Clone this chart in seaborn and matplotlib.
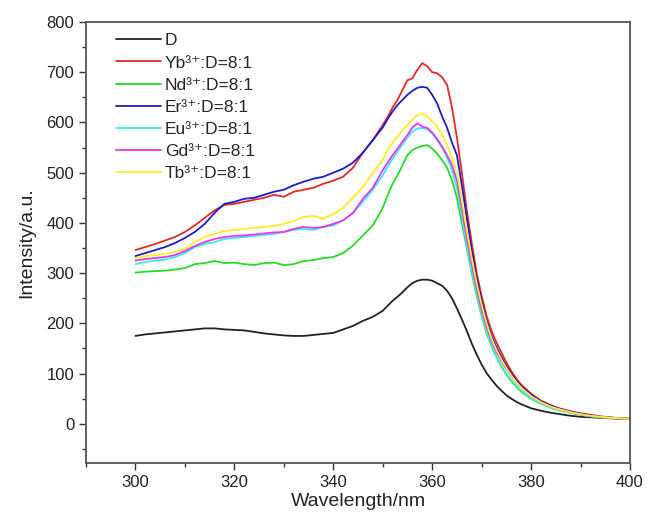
import numpy as np
import pandas as pd
import matplotlib
matplotlib.use("Agg")
import matplotlib.pyplot as plt
import seaborn as sns
from matplotlib.ticker import MultipleLocator

wavelength = [300, 302, 304, 306, 308, 310, 312, 314, 316, 318, 320, 322, 324, 326, 328, 330,
              332, 334, 336, 338, 340, 342, 344, 346, 348, 350,
              351, 352, 353, 354, 355, 356, 357, 358, 359, 360, 361, 362, 363, 364, 365, 366,
              367, 368, 369, 370, 371, 372, 373, 374, 375, 376, 377, 378,
              380, 382, 384, 386, 388, 390, 392, 394, 396, 398, 400]

d_vals = [175, 178, 180, 182, 184, 186, 188, 190, 190, 188, 187, 186, 183, 180, 178, 176,
          175, 175, 177, 179, 181, 188, 195, 205, 213, 225,
          235, 245, 253, 262, 272, 280, 285, 287, 287, 285, 280, 275, 265, 250, 230, 208,
          185, 160, 138, 118, 101, 88, 76, 66, 57, 50, 44, 39,
          31, 26, 22, 19, 16, 14, 13, 12, 11, 10, 10]

yb_vals = [346, 352, 358, 365, 372, 382, 395, 410, 425, 436, 438, 442, 446, 450, 456, 452,
           462, 466, 470, 478, 484, 492, 510, 540, 565, 595,
           611, 630, 645, 665, 684, 688, 705, 718, 712, 700, 698, 690, 675, 630, 570, 500,
           425, 360, 300, 255, 215, 185, 162, 142, 122, 105, 90, 78,
           60, 46, 37, 30, 25, 21, 18, 15, 13, 11, 10]

nd_vals = [301, 303, 304, 305, 307, 310, 318, 320, 324, 320, 321, 318, 316, 320, 321, 316,
           318, 324, 326, 330, 332, 340, 355, 375, 395, 430,
           455, 478, 495, 515, 535, 545, 550, 553, 555, 548, 538, 525, 510, 485, 450, 400,
           350, 300, 255, 215, 180, 155, 133, 114, 98, 85, 74, 64,
           50, 40, 32, 26, 22, 18, 15, 13, 12, 11, 10]

er_vals = [334, 340, 346, 352, 360, 370, 382, 398, 420, 438, 442, 448, 450, 456, 462, 466,
           475, 482, 488, 492, 500, 508, 520, 540, 565, 590,
           607, 622, 635, 645, 655, 663, 669, 671, 669, 655, 638, 612, 590, 560, 535, 475,
           410, 345, 290, 245, 205, 175, 152, 133, 115, 100, 86, 75,
           58, 45, 36, 29, 24, 20, 17, 14, 12, 11, 10]

eu_vals = [318, 322, 325, 327, 332, 340, 352, 358, 362, 368, 370, 372, 374, 376, 378, 382,
           386, 388, 386, 392, 395, 405, 420, 442, 466, 495,
           512, 528, 542, 556, 570, 582, 588, 589, 586, 578, 565, 550, 530, 505, 470, 415,
           355, 305, 258, 218, 182, 155, 133, 115, 100, 87, 76, 66,
           51, 40, 32, 26, 22, 18, 15, 13, 12, 11, 10]

gd_vals = [325, 328, 330, 332, 336, 344, 354, 362, 368, 372, 374, 375, 377, 379, 381, 382,
           388, 392, 390, 392, 398, 405, 420, 448, 470, 505,
           520, 535, 548, 562, 575, 590, 598, 592, 589, 580, 567, 552, 535, 515, 485, 430,
           370, 318, 270, 228, 193, 165, 143, 125, 109, 95, 83, 72,
           55, 43, 34, 28, 23, 19, 16, 14, 12, 11, 10]

tb_vals = [330, 334, 336, 338, 342, 348, 362, 372, 378, 384, 386, 388, 390, 392, 394, 398,
           404, 412, 414, 408, 418, 430, 450, 472, 500, 525,
           545, 560, 572, 585, 595, 606, 615, 618, 612, 602, 592, 575, 556, 530, 500, 445,
           385, 330, 280, 237, 200, 170, 147, 128, 111, 96, 83, 72,
           55, 43, 34, 28, 23, 19, 16, 14, 12, 11, 10]

labels = ["D", "Yb\u00b3\u207a:D=8:1", "Nd\u00b3\u207a:D=8:1", "Er\u00b3\u207a:D=8:1",
          "Eu\u00b3\u207a:D=8:1", "Gd\u00b3\u207a:D=8:1", "Tb\u00b3\u207a:D=8:1"]
series = [d_vals, yb_vals, nd_vals, er_vals, eu_vals, gd_vals, tb_vals]
colors = ["#222222", "#e82828", "#22dd22", "#1c1cc8", "#33eeee", "#ee33ee", "#ffee22"]

rows = []
for lab, vals in zip(labels, series):
    for w, v in zip(wavelength, vals):
        rows.append({"Wavelength": w, "Intensity": v, "Sample": lab})
df = pd.DataFrame(rows)

sns.set_theme(style="ticks")
plt.rcParams["font.family"] = ["Liberation Sans", "DejaVu Sans"]

fig = plt.figure(figsize=(6.47, 5.18), dpi=100)
ax = fig.add_axes([86/647, 1-463/518, (630-86)/647, (463-22)/518])

sns.lineplot(data=df, x="Wavelength", y="Intensity", hue="Sample",
             hue_order=labels, palette=dict(zip(labels, colors)),
             linewidth=1.3, ax=ax, legend=True)

ax.set_xlim(290, 400)
ax.set_ylim(-78, 800)
ax.set_xticks([300, 320, 340, 360, 380, 400])
ax.set_yticks([0, 100, 200, 300, 400, 500, 600, 700, 800])
ax.xaxis.set_minor_locator(MultipleLocator(10))
ax.yaxis.set_minor_locator(MultipleLocator(50))
ax.tick_params(which="major", direction="out", length=5, width=1, colors="#333333",
               labelsize=12, labelcolor="#222222", top=False, right=False)
ax.tick_params(which="minor", direction="out", length=3, width=1, colors="#333333",
               top=False, right=False)
for sp in ax.spines.values():
    sp.set_visible(True)
    sp.set_color("#555555")
    sp.set_linewidth(1.3)

ax.set_xlabel("Wavelength/nm", fontsize=14, color="#222222", labelpad=2)
ax.set_ylabel("Intensity/a.u.", fontsize=14, color="#222222", labelpad=8)

handles, labs = ax.get_legend_handles_labels()
ax.legend(handles, labs, loc="upper left", bbox_to_anchor=(0.035, 1.0), frameon=False,
          fontsize=12.5, handlelength=2.6, handletextpad=0.2, labelspacing=0.4,
          borderaxespad=0.25)

fig.savefig("out.png", dpi=100)
